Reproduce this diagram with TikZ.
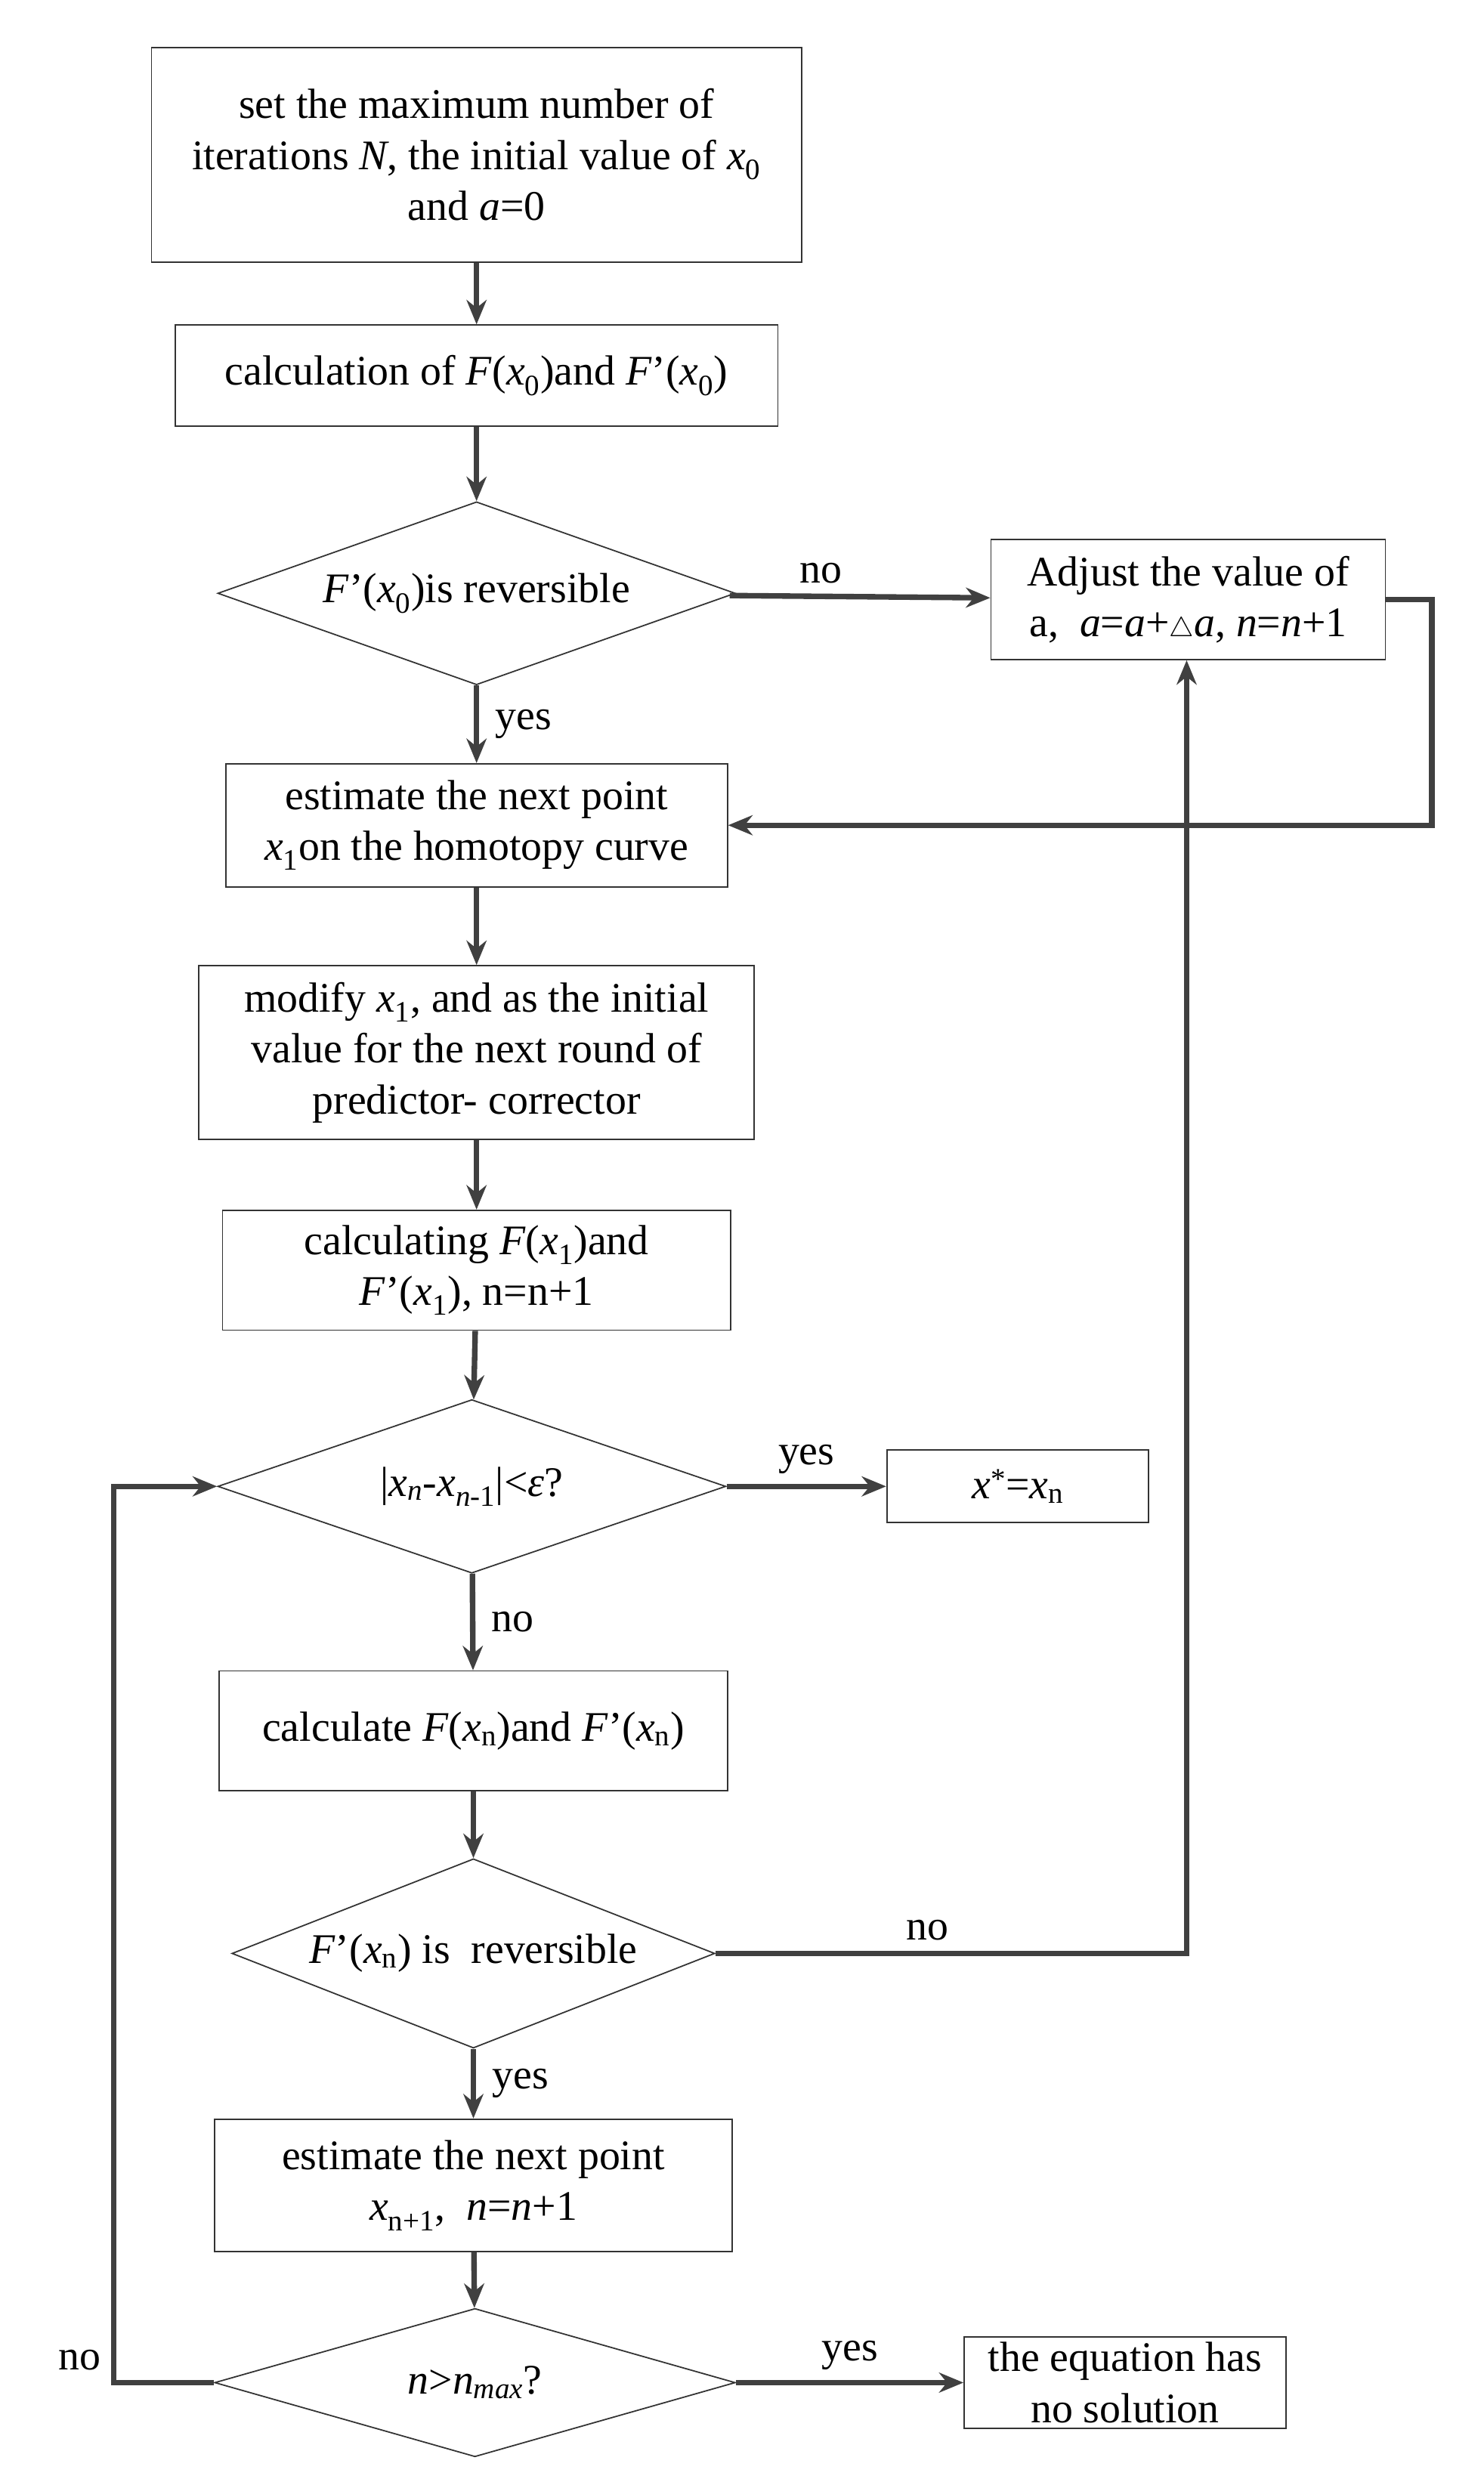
\documentclass[tikz,border=0pt]{standalone}
\usepackage{fontspec}
\setmainfont{Liberation Serif}
\usetikzlibrary{shapes.geometric,arrows.meta}
\newcommand{\iv}[1]{\textit{#1}}
\newcommand{\sbs}[1]{\textsubscript{#1}}
\tikzset{
  box/.style={draw=black!80, line width=1.2pt, align=center, inner sep=0pt, font=\fontsize{38}{46}\selectfont},
  dia/.style={draw=black!80, line width=1.2pt, diamond, inner sep=0pt},
  flow/.style={draw=black!75, line width=5pt, -{Stealth[length=22pt,width=18pt]}},
  lbl/.style={font=\fontsize{38}{46}\selectfont}
}
\begin{document}
\begin{tikzpicture}[x=0.5mm, y=-0.5mm]
\useasboundingbox (0,0) rectangle (940,1573);
%%% boxes %%%
\node[box, minimum width=206mm, minimum height=68mm] (init) at (302,98) {set the maximum number of\\ iterations \iv{N}, the initial value of \iv{x}\sbs{0}\\ and \iv{a}=0};
\node[box, minimum width=191mm, minimum height=32mm] (calc0) at (302,238) {calculation of \iv{F}(\iv{x}\sbs{0})and \iv{F}'(\iv{x}\sbs{0})};
\node[dia, minimum width=164mm, minimum height=58mm] (rev0) at (302,376) {};
\node[lbl] at (rev0) {\iv{F}'(\iv{x}\sbs{0})is reversible};
\node[box, minimum width=125mm, minimum height=38mm] (adjust) at (753,380) {Adjust the value of\\ a,\ \ \iv{a}=\iv{a}+$\triangle$\iv{a}, \iv{n}=\iv{n}+1};
\node[box, minimum width=159mm, minimum height=39mm] (est1) at (302,523) {estimate the next point\\ \iv{x}\sbs{1}on the homotopy curve};
\node[box, minimum width=176mm, minimum height=55mm] (mod) at (302,667) {modify \iv{x}\sbs{1}, and as the initial\\ value for the next round of\\ predictor- corrector};
\node[box, minimum width=161mm, minimum height=38mm] (calc1) at (302,805) {calculating \iv{F}(\iv{x}\sbs{1})and\\ \iv{F}'(\iv{x}\sbs{1}), n=n+1};
\node[dia, minimum width=161mm, minimum height=55mm] (conv) at (299,942) {};
\node[lbl] at (conv) {|\iv{x}\sbs{\iv{n}}-\iv{x}\sbs{\iv{n}-1}|<\iv{ε}?};
\node[box, minimum width=83mm, minimum height=23mm] (sol) at (645,942) {\iv{x}\textsuperscript{*}=\iv{x}\sbs{n}};
\node[box, minimum width=161mm, minimum height=38mm] (calcn) at (300,1097) {calculate \iv{F}(\iv{x}\sbs{n})and \iv{F}'(\iv{x}\sbs{n})};
\node[dia, minimum width=153mm, minimum height=60mm] (revn) at (300,1238) {};
\node[lbl] at (revn) {\iv{F}'(\iv{x}\sbs{n}) is\ \ reversible};
\node[box, minimum width=164mm, minimum height=42mm] (estn) at (300,1385) {estimate the next point\\ \iv{x}\sbs{n+1},\ \ \iv{n}=\iv{n}+1};
\node[dia, minimum width=165mm, minimum height=47mm] (nmax) at (301,1510) {};
\node[lbl] at (nmax) {\iv{n}>\iv{n}\sbs{\iv{max}}?};
\node[box, minimum width=102mm, minimum height=29mm] (nosol) at (713,1510) {the equation has\\ no solution};
%%% connectors %%%
\draw[flow] (init) -- (calc0);
\draw[flow] (calc0) -- (rev0);
\draw[flow] (rev0) -- node[lbl, above, pos=0.35, yshift=2mm] {no} (adjust);
\draw[flow] (rev0) -- node[lbl, right, xshift=4mm] {yes} (est1);
\draw[flow] (adjust.east) -- ++(29,0) |- (est1.east);
\draw[flow] (est1) -- (mod);
\draw[flow] (mod) -- (calc1);
\draw[flow] (calc1) -- (conv);
\draw[flow] (conv) -- node[lbl, above, yshift=2mm] {yes} (sol);
\draw[flow] (conv) -- node[lbl, right, xshift=4mm] {no} (calcn);
\draw[flow] (calcn) -- (revn);
\draw[flow] (revn.east) -- node[lbl, above, pos=0.45, yshift=2mm] {no} (752,1238) -- (adjust.south -| 752,0);
\draw[flow] (revn) -- node[lbl, right, xshift=4mm] {yes} (estn);
\draw[flow] (estn) -- (nmax);
\draw[flow] (nmax) -- node[lbl, above, yshift=2mm] {yes} (nosol);
\draw[flow] (nmax.west) -- (72,1510) node[lbl, above left, xshift=-2mm, yshift=2mm] {no} |- (conv.west);
\end{tikzpicture}
\end{document}
